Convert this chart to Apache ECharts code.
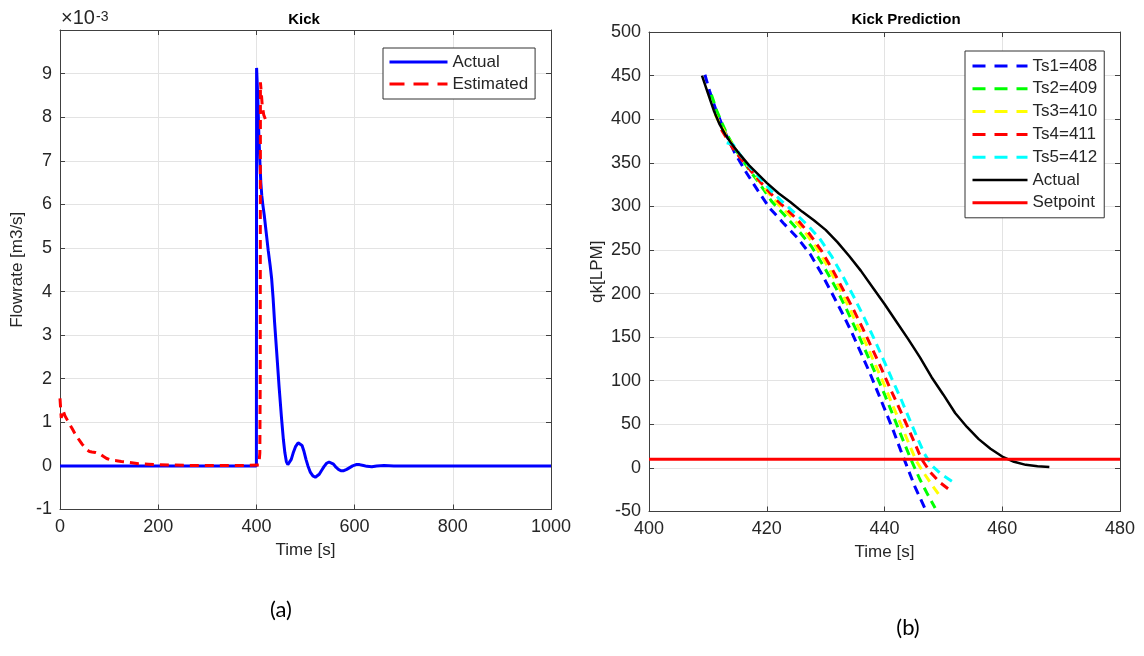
<!DOCTYPE html>
<html><head><meta charset="utf-8">
<script src="https://cdn.jsdelivr.net/npm/echarts@6/dist/echarts.min.js"></script>
<style>html,body{margin:0;padding:0;background:#fff}#c{width:1144px;height:656px}</style>
</head><body><div id="c"></div>
<script>
// ---- Left panel (a): Kick ----
const kickActual = [[0,0],[400,0],[400.4,9.13],[401,9.13],[403,8.4],[405,7.6],[407,7.0],[409,6.5],[411,6.2],[413,6.0],[416,5.75],[420,5.35],[424,4.95],[428,4.6],[431,4.3],[434,3.85],[437,3.3],[441,2.66],[446,1.85],[451,1.12],[455,0.6],[458,0.3],[461,0.1],[464,0.03],[467,0.05],[471,0.15],[475,0.3],[480,0.45],[485,0.53],[489,0.54],[493,0.47],[497,0.33],[501,0.15],[505,0.0],[510,-0.15],[515,-0.23],[520,-0.26],[524,-0.25],[528,-0.19],[533,-0.1],[538,-0.01],[543,0.06],[548,0.09],[552,0.08],[557,0.04],[562,-0.03],[567,-0.08],[572,-0.11],[578,-0.11],[584,-0.08],[590,-0.04],[596,0.0],[603,0.03],[610,0.03],[618,0.01],[625,-0.01],[635,-0.02],[645,0.0],[660,0.01],[680,0],[700,0],[1000,0]];
const kickEstimated = [[0,1.55],[2.5,1.1],[6,1.28],[10,1.15],[15,1.05],[20,0.95],[25,0.85],[30,0.75],[35,0.66],[40,0.58],[45,0.5],[50,0.43],[55,0.37],[60,0.33],[65,0.32],[72,0.31],[80,0.28],[88,0.22],[95,0.17],[105,0.13],[115,0.12],[125,0.1],[140,0.08],[160,0.05],[180,0.04],[200,0.03],[230,0.02],[270,0.01],[320,0.01],[380,0.01],[405,0.02],[407,0.3],[407.8,2],[408.2,8.8],[410,8.55],[412,8.25],[415,8.05],[419.5,7.92]];
const leftXTicks = {min:0, max:1000, interval:200};
const leftYTicks = {min:-1, max:10, interval:1};

// ---- Right panel (b): Kick Prediction ----
const ts1 = [[409.5,451],[410.3,432],[411.3,412],[412.5,392],[413.6,375],[414.6,361],[416.6,338],[418.5,318],[420.5,298],[422.8,281],[425.2,264],[427.4,245],[429.3,223],[431.1,200],[432.8,178],[434.4,156],[436,132],[437.5,109],[438.9,86],[440.3,63],[441.6,41],[442.7,21],[443.8,2],[445.2,-22],[446.9,-47]];
const ts2 = [[410.6,428],[411.5,410],[412.5,394],[413.6,378],[415,362],[416.8,344],[418.8,326],[420.8,306],[423,290],[425.3,273],[427.6,254],[429.7,231],[431.7,207],[433.4,184],[435,161],[436.6,137],[438.1,114],[439.6,91],[441,68],[442.3,46],[443.5,26],[444.6,8],[446,-13],[447.3,-30],[448.6,-46]];
const ts3 = [[411.2,406],[412.2,393],[413.3,380],[414.5,367],[416,353],[418,335],[420,318],[422,302],[424,289],[426.2,273],[428.3,254],[430.3,232],[432.2,208],[433.9,185],[435.5,162],[437.1,139],[438.6,116],[440.1,93],[441.5,70],[442.9,48],[444.2,27],[445.4,8],[446.6,-5],[448.1,-20],[449.7,-35]];
const ts4 = [[412.3,388],[413.2,378],[414.3,366],[415.7,354],[417.4,340],[419.3,325],[421.3,310],[423.3,297],[425.3,284],[427.3,268],[429.3,249],[431.2,227],[433,204],[434.7,182],[436.3,160],[437.9,137],[439.4,115],[440.9,92],[442.4,70],[443.8,49],[445.1,29],[446.3,10],[447.8,-5],[449.3,-16],[450.8,-24]];
const ts5 = [[413.2,373],[414.3,371],[415.5,359],[417,346],[419,331],[421,316],[423,303],[425,291],[427,278],[429,263],[431,243],[433,219],[434.8,196],[436.5,173],[438.1,150],[439.7,126],[441.2,103],[442.8,79],[444.3,55],[445.6,34],[446.8,16],[448,3],[449.6,-7],[451.6,-16]];
const predActual = [[409,450],[410,430],[411,410],[412,394],[413,382],[414,372],[415.5,359],[417,347],[418.5,337],[420,327],[422,315],[424,305],[426,294],[428,284],[430,273],[432,259],[434,243],[436,226],[438,207],[440,188],[442,168],[444,148],[446,127],[448,104],[450,84],[452,63],[454,47],[456,33],[458,22],[460,13],[462,7],[464,3.5],[466,1.8],[468,1]];
const setpoint = [[400,10],[480,10]];
const rightXTicks = {min:400, max:480, interval:20};
const rightYTicks = {min:-50, max:500, interval:50};

const FONT = "'Liberation Sans', Arial, sans-serif";
const AX = '#404040', LBL = '#262626', GRIDC = '#e3e3e3';

function xAxes(gi, t, name){
  return [{
    gridIndex: gi, type:'value', min:t.min, max:t.max, interval:t.interval, position:'bottom',
    axisLine:{show:true, onZero:false, lineStyle:{color:AX, width:1}},
    axisTick:{show:true, inside:true, length:5, lineStyle:{color:AX}},
    axisLabel:{color:LBL, fontSize:18, fontFamily:FONT, margin:9, formatter: v => String(v)},
    splitLine:{show:true, lineStyle:{color:GRIDC, width:1}},
    name:name, nameLocation:'middle', nameGap:31,
    nameTextStyle:{color:LBL, fontSize:17, fontFamily:FONT}
  },{
    gridIndex: gi, type:'value', min:t.min, max:t.max, interval:t.interval, position:'top',
    axisLine:{show:true, onZero:false, lineStyle:{color:AX, width:1}},
    axisTick:{show:true, inside:true, length:5, lineStyle:{color:AX}},
    axisLabel:{show:false}, splitLine:{show:false}
  }];
}
function yAxes(gi, t, name, gap, hideTop){
  return [{
    gridIndex: gi, type:'value', min:t.min, max:t.max, interval:t.interval, position:'left',
    axisLine:{show:true, onZero:false, lineStyle:{color:AX, width:1}},
    axisTick:{show:true, inside:true, length:5, lineStyle:{color:AX}},
    axisLabel:{color:LBL, fontSize:18, fontFamily:FONT, margin:8,
      formatter: v => (hideTop && v === t.max) ? '' : String(v)},
    splitLine:{show:true, lineStyle:{color:GRIDC, width:1}},
    name:name, nameLocation:'middle', nameGap:gap, nameRotate:90,
    nameTextStyle:{color:LBL, fontSize:17, fontFamily:FONT}
  },{
    gridIndex: gi, type:'value', min:t.min, max:t.max, interval:t.interval, position:'right',
    axisLine:{show:true, onZero:false, lineStyle:{color:AX, width:1}},
    axisTick:{show:true, inside:true, length:5, lineStyle:{color:AX}},
    axisLabel:{show:false}, splitLine:{show:false}
  }];
}
function ln(name, data, color, width, dash, xi, yi){
  return {type:'line', name, data, xAxisIndex:xi, yAxisIndex:yi, symbol:'none', showSymbol:false,
    animation:false, clip:true,
    lineStyle:{color, width, type: dash ? dash : 'solid'}, itemStyle:{color}};
}
const D = [9,6];
const LD = [13,9];
const option = {
  backgroundColor:'#fff',
  animation:false,
  grid:[
    {left:60, top:30, width:491, height:479.5},
    {left:649, top:32, width:471, height:479.5}
  ],
  xAxis:[...xAxes(0, leftXTicks, 'Time [s]'), ...xAxes(1, rightXTicks, 'Time [s]')],
  yAxis:[...yAxes(0, leftYTicks, 'Flowrate [m3/s]', 34, true), ...yAxes(1, rightYTicks, 'qk[LPM]', 43, false)],
  legend:[{
    left:383, top:48, orient:'vertical', itemWidth:58, itemHeight:14, itemGap:4,
    padding:[5,7,6,5], borderColor:'#333', borderWidth:1, backgroundColor:'#fff',
    textStyle:{color:LBL, fontSize:17, fontFamily:FONT, lineHeight:18},
    itemStyle:{opacity:0},
    lineStyle:{width:3},
    selectedMode:false,
    data:[{name:'Actual', lineStyle:{width:3}},{name:'Estimated', lineStyle:{type:[15,9], width:3}}]
  },{
    left:965, top:51, orient:'vertical', itemWidth:55, itemHeight:14, itemGap:4.8,
    padding:[6,7,6,6], borderColor:'#333', borderWidth:1, backgroundColor:'#fff',
    textStyle:{color:LBL, fontSize:17, fontFamily:FONT, lineHeight:18},
    itemStyle:{opacity:0},
    lineStyle:{width:3},
    selectedMode:false,
    formatter: n => n.trim(),
    data:[
      {name:'Ts1=408', lineStyle:{type:LD, width:3}},
      {name:'Ts2=409', lineStyle:{type:LD, width:3}},
      {name:'Ts3=410', lineStyle:{type:LD, width:3}},
      {name:'Ts4=411', lineStyle:{type:LD, width:3}},
      {name:'Ts5=412', lineStyle:{type:LD, width:3}},
      {name:'Actual ', lineStyle:{width:2.5}},
      {name:'Setpoint', lineStyle:{width:3}}
    ]
  }],
  series:[
    ln('Actual', kickActual, '#0000ff', 3, null, 0, 0),
    ln('Estimated', kickEstimated, '#ff0000', 3, D, 0, 0),
    ln('Ts1=408', ts1, '#0000ff', 3, D, 2, 2),
    ln('Ts2=409', ts2, '#00ff00', 3, D, 2, 2),
    ln('Ts3=410', ts3, '#ffff00', 3, D, 2, 2),
    ln('Ts4=411', ts4, '#ff0000', 3, D, 2, 2),
    ln('Ts5=412', ts5, '#00ffff', 3, D, 2, 2),
    ln('Actual ', predActual, '#000000', 2.5, null, 2, 2),
    ln('Setpoint', setpoint, '#ff0000', 3, null, 2, 2)
  ],
  graphic:[
    {type:'text', style:{text:'×10', x:61, y:28, font:"20px 'Liberation Sans', Arial, sans-serif", fill:LBL, textAlign:'left', textVerticalAlign:'bottom'}},
    {type:'text', style:{text:'-3', x:96, y:10, font:"14px 'Liberation Sans', Arial, sans-serif", fill:LBL, textAlign:'left', textVerticalAlign:'top'}},
    {type:'text', style:{text:'Kick', x:304, y:20, font:"bold 15px 'Liberation Sans', Arial, sans-serif", fill:'#000', textAlign:'center', textVerticalAlign:'middle'}},
    {type:'text', style:{text:'Kick Prediction', x:906, y:20, font:"bold 15px 'Liberation Sans', Arial, sans-serif", fill:'#000', textAlign:'center', textVerticalAlign:'middle'}},
    {type:'text', style:{text:'(a)', x:281, y:610, font:"22px Lato, 'Open Sans', sans-serif", fill:'#000', textAlign:'center', textVerticalAlign:'middle'}},
    {type:'text', style:{text:'(b)', x:908, y:628, font:"22px Lato, 'Open Sans', sans-serif", fill:'#000', textAlign:'center', textVerticalAlign:'middle'}}
  ]
};
const chart = echarts.init(document.getElementById('c'), null, {renderer:'canvas'});
chart.setOption(option);
</script>
</body></html>
